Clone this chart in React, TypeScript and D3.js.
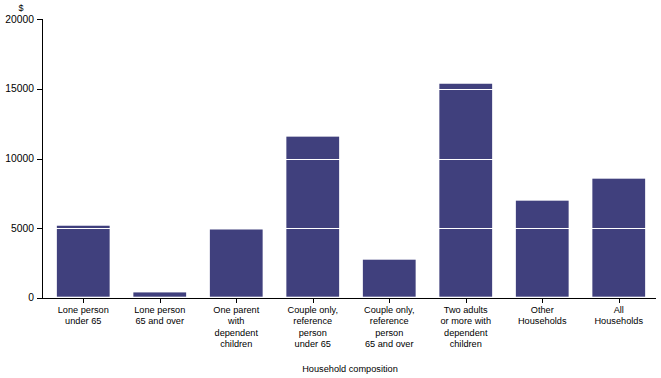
import React from "react";
import * as d3 from "d3";

const categories: string[][] = [
  ["Lone person", "under 65"],
  ["Lone person", "65 and over"],
  ["One parent", "with", "dependent", "children"],
  ["Couple only,", "reference", "person", "under 65"],
  ["Couple only,", "reference", "person", "65 and over"],
  ["Two adults", "or more with", "dependent", "children"],
  ["Other", "Households"],
  ["All", "Households"],
];
const values: number[] = [5170, 380, 4900, 11570, 2730, 15370, 6970, 8550];
const yTicks: number[] = [0, 5000, 10000, 15000, 20000];
const gridValues: number[] = [5000, 10000, 15000, 20000];

const W = 661;
const H = 378;
const left = 42;
const right = 656;
const top = 19.3;
const bottom = 297.7;
const barColor = "#40407d";
const font = "'Liberation Sans', Arial, sans-serif";

export default function App() {
  const x = d3
    .scaleBand<number>()
    .domain(d3.range(values.length))
    .range([45, 657])
    .paddingInner(0.31)
    .paddingOuter(0.155);
  const y = d3.scaleLinear().domain([0, 20000]).range([bottom, top]);

  return (
    <svg
      width={W}
      height={H}
      style={{ position: "absolute", left: 0, top: 0, background: "#fff" }}
    >
      {values.map((v, i) => (
        <rect
          key={i}
          x={x(i)}
          y={y(v)}
          width={x.bandwidth()}
          height={y(0) - y(v) - 1}
          fill={barColor}
        />
      ))}
      {gridValues.map((g) => (
        <line
          key={g}
          x1={left + 1}
          x2={right}
          y1={Math.round(y(g)) + 0.5}
          y2={Math.round(y(g)) + 0.5}
          stroke="#fff"
          strokeWidth={1}
        />
      ))}
      {/* y axis */}
      <line x1={left + 0.5} x2={left + 0.5} y1={Math.round(top)} y2={bottom + 0.5} stroke="#000" />
      {yTicks.map((t) => (
        <g key={t}>
          <line
            x1={37}
            x2={left}
            y1={Math.round(y(t)) + 0.5}
            y2={Math.round(y(t)) + 0.5}
            stroke="#000"
          />
          <text
            x={34}
            y={y(t) + 3.5}
            textAnchor="end"
            fontFamily={font}
            fontSize={10.3}
            fill="#000"
          >
            {t}
          </text>
        </g>
      ))}
      <text x={21} y={11} textAnchor="middle" fontFamily={font} fontSize={9} fill="#000">
        $
      </text>
      {/* x axis */}
      <line x1={left} x2={right} y1={Math.round(bottom) + 0.5} y2={Math.round(bottom) + 0.5} stroke="#000" />
      {categories.map((lines, i) => {
        const cx = (x(i) as number) + x.bandwidth() / 2;
        return (
          <g key={i}>
            <line
              x1={Math.round(cx) + 0.5}
              x2={Math.round(cx) + 0.5}
              y1={Math.round(bottom)}
              y2={Math.round(bottom) + 5}
              stroke="#000"
            />
            <text textAnchor="middle" fontFamily={font} fontSize={9.2} fill="#000">
              {lines.map((l, j) => (
                <tspan key={j} x={cx} y={312.5 + j * 11.5}>
                  {l}
                </tspan>
              ))}
            </text>
          </g>
        );
      })}
      <text
        x={350}
        y={372}
        textAnchor="middle"
        fontFamily={font}
        fontSize={9.2}
        fill="#000"
      >
        Household composition
      </text>
    </svg>
  );
}
